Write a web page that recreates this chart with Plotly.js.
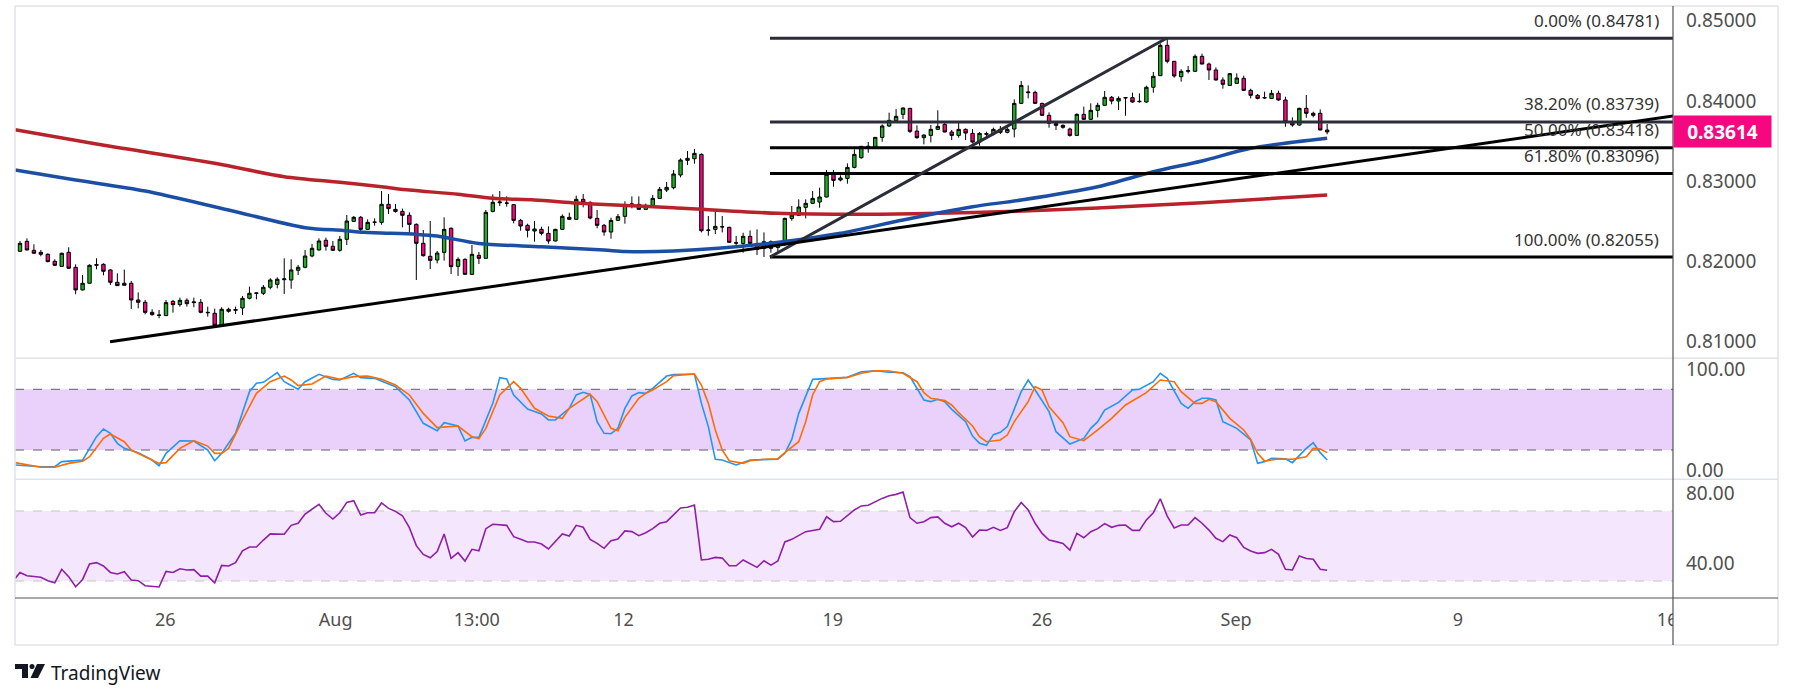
<!DOCTYPE html>
<html><head><meta charset="utf-8">
<script src="https://cdn.plot.ly/plotly-3.0.1.min.js"></script>
<style>html,body{margin:0;padding:0;background:#fff;overflow:hidden}#chart{width:1793px;height:699px}</style>
</head><body><div id="chart"></div>
<script>
// ---------- DATA ----------
const opens = [
0.82126,0.82251,0.82139,0.82114,0.82089,0.82002,0.81939,0.82114,0.81927,0.81645,
0.81728,0.81952,0.81964,0.81894,0.81740,0.81728,0.81728,0.81520,0.81491,0.81366,
0.81333,0.81325,0.81503,0.81462,0.81516,0.81487,0.81491,0.81366,0.81354,0.81204,
0.81404,0.81391,0.81420,0.81541,0.81603,0.81603,0.81678,0.81715,0.81773,0.81769,
0.81890,0.81927,0.82068,0.82143,0.82264,0.82189,0.82139,0.82276,0.82500,0.82550,
0.82400,0.82487,0.82487,0.82712,0.82649,0.82624,0.82575,0.82462,0.82226,0.82064,
0.82018,0.82113,0.82413,0.81939,0.82026,0.81839,0.82076,0.82039,0.82624,0.82732,
0.82728,0.82708,0.82512,0.82450,0.82379,0.82400,0.82350,0.82255,0.82400,0.82550,
0.82525,0.82774,0.82737,0.82537,0.82450,0.82367,0.82512,0.82562,0.82708,0.82712,
0.82649,0.82699,0.82786,0.82890,0.82919,0.83077,0.83260,0.83280,0.83334,0.82387,
0.82400,0.82429,0.82425,0.82234,0.82225,0.82313,0.82225,0.82163,0.82246,0.82175,
0.82213,0.82537,0.82574,0.82674,0.82724,0.82740,0.82803,0.83085,0.83015,0.83035,
0.83172,0.83293,0.83422,0.83422,0.83546,0.83688,0.83754,0.83833,0.83908,0.83625,
0.83542,0.83571,0.83646,0.83708,0.83613,0.83571,0.83646,0.83596,0.83488,0.83584,
0.83588,0.83646,0.83609,0.83650,0.83970,0.84103,0.84107,0.83970,0.83821,0.83721,
0.83696,0.83650,0.83571,0.83833,0.83771,0.83883,0.83945,0.84045,0.83999,0.84037,
0.84041,0.83991,0.83987,0.84170,0.84315,0.84693,0.84494,0.84302,0.84369,0.84369,
0.84556,0.84460,0.84386,0.84261,0.84194,0.84219,0.84282,0.84132,0.84070,0.84037,
0.84032,0.84095,0.84012,0.83733,0.83700,0.83908,0.83846,0.83846,0.83638];
const highs = [
0.82255,0.82288,0.82214,0.82143,0.82102,0.82027,0.82110,0.82176,0.81964,0.81831,
0.81964,0.82039,0.81977,0.81902,0.81852,0.81898,0.81757,0.81615,0.81520,0.81404,
0.81395,0.81520,0.81520,0.81549,0.81541,0.81549,0.81532,0.81437,0.81412,0.81429,
0.81424,0.81437,0.81570,0.81686,0.81610,0.81707,0.81790,0.81802,0.82039,0.82027,
0.81956,0.82143,0.82218,0.82288,0.82297,0.82255,0.82318,0.82579,0.82566,0.82566,
0.82525,0.82537,0.82878,0.82840,0.82716,0.82658,0.82612,0.82475,0.82392,0.82504,
0.82130,0.82550,0.82425,0.82051,0.82039,0.82205,0.82118,0.82641,0.82836,0.82878,
0.82811,0.82716,0.82529,0.82471,0.82504,0.82433,0.82437,0.82408,0.82587,0.82608,
0.82820,0.82840,0.82749,0.82641,0.82467,0.82545,0.82591,0.82749,0.82811,0.82811,
0.82720,0.82828,0.82928,0.82990,0.83140,0.83285,0.83376,0.83401,0.83347,0.82566,
0.82628,0.82566,0.82433,0.82317,0.82358,0.82387,0.82400,0.82362,0.82263,0.82246,
0.82545,0.82691,0.82774,0.82774,0.82877,0.82919,0.83139,0.83139,0.83073,0.83222,
0.83397,0.83440,0.83488,0.83550,0.83708,0.83854,0.83899,0.83920,0.83912,0.83696,
0.83584,0.83700,0.83883,0.83737,0.83638,0.83737,0.83658,0.83650,0.83613,0.83617,
0.83667,0.83688,0.83679,0.84020,0.84248,0.84194,0.84128,0.83978,0.83858,0.83737,
0.83708,0.83667,0.83845,0.83929,0.83970,0.83978,0.84124,0.84062,0.84057,0.84045,
0.84103,0.84095,0.84190,0.84361,0.84718,0.84781,0.84498,0.84394,0.84435,0.84581,
0.84589,0.84477,0.84419,0.84294,0.84348,0.84344,0.84315,0.84153,0.84086,0.84116,
0.84136,0.84128,0.84053,0.83796,0.83916,0.84074,0.83866,0.83895,0.83713];
const lows = [
0.82122,0.82139,0.82097,0.82064,0.81989,0.81944,0.81935,0.81910,0.81591,0.81640,
0.81728,0.81902,0.81827,0.81707,0.81695,0.81699,0.81408,0.81416,0.81341,0.81325,
0.81292,0.81321,0.81362,0.81437,0.81437,0.81429,0.81354,0.81312,0.81200,0.81188,
0.81362,0.81346,0.81333,0.81528,0.81528,0.81582,0.81653,0.81665,0.81595,0.81661,
0.81831,0.81915,0.82052,0.82135,0.82135,0.82131,0.82122,0.82205,0.82492,0.82346,
0.82396,0.82446,0.82458,0.82591,0.82608,0.82425,0.82329,0.81769,0.82060,0.81906,
0.81976,0.82010,0.81843,0.81819,0.81835,0.81835,0.81968,0.82035,0.82612,0.82691,
0.82683,0.82475,0.82383,0.82300,0.82246,0.82325,0.82221,0.82250,0.82392,0.82516,
0.82520,0.82674,0.82525,0.82413,0.82321,0.82284,0.82504,0.82471,0.82662,0.82645,
0.82645,0.82683,0.82782,0.82865,0.82899,0.83048,0.83201,0.83218,0.82362,0.82321,
0.82342,0.82362,0.82234,0.82200,0.82109,0.82221,0.82080,0.82055,0.82109,0.82109,
0.82196,0.82508,0.82566,0.82537,0.82715,0.82670,0.82799,0.82931,0.82998,0.82969,
0.83160,0.83280,0.83355,0.83418,0.83492,0.83675,0.83742,0.83775,0.83600,0.83530,
0.83459,0.83484,0.83638,0.83609,0.83513,0.83542,0.83513,0.83471,0.83442,0.83555,
0.83571,0.83588,0.83596,0.83546,0.83962,0.84032,0.83962,0.83812,0.83667,0.83638,
0.83654,0.83555,0.83563,0.83762,0.83762,0.83796,0.83937,0.83958,0.83887,0.83816,
0.83978,0.83978,0.83978,0.84103,0.84315,0.84469,0.84290,0.84240,0.84344,0.84365,
0.84456,0.84261,0.84255,0.84153,0.84186,0.84215,0.84124,0.84032,0.84020,0.84024,
0.84024,0.84003,0.83679,0.83679,0.83692,0.83791,0.83796,0.83634,0.83584];
const closes = [
0.82226,0.82143,0.82102,0.82089,0.81998,0.81952,0.82102,0.81915,0.81645,0.81728,
0.81952,0.81960,0.81877,0.81740,0.81699,0.81703,0.81520,0.81491,0.81366,0.81337,
0.81329,0.81487,0.81462,0.81516,0.81474,0.81495,0.81366,0.81362,0.81204,0.81404,
0.81379,0.81400,0.81541,0.81603,0.81607,0.81678,0.81769,0.81778,0.81782,0.81894,
0.81927,0.82068,0.82164,0.82255,0.82189,0.82139,0.82276,0.82504,0.82550,0.82400,
0.82487,0.82490,0.82712,0.82658,0.82624,0.82575,0.82462,0.82226,0.82072,0.82014,
0.82105,0.82400,0.81935,0.82026,0.81839,0.82089,0.82039,0.82612,0.82737,0.82741,
0.82726,0.82512,0.82442,0.82388,0.82404,0.82350,0.82255,0.82400,0.82562,0.82525,
0.82774,0.82737,0.82541,0.82450,0.82367,0.82512,0.82558,0.82708,0.82716,0.82649,
0.82699,0.82786,0.82899,0.82923,0.83090,0.83264,0.83285,0.83347,0.82383,0.82391,
0.82437,0.82433,0.82238,0.82229,0.82313,0.82225,0.82151,0.82246,0.82163,0.82213,
0.82537,0.82578,0.82678,0.82724,0.82786,0.82803,0.83085,0.83010,0.83040,0.83172,
0.83334,0.83434,0.83434,0.83546,0.83688,0.83758,0.83808,0.83912,0.83621,0.83542,
0.83575,0.83646,0.83683,0.83613,0.83571,0.83646,0.83600,0.83488,0.83596,0.83592,
0.83646,0.83609,0.83646,0.83970,0.84194,0.84111,0.83970,0.83821,0.83721,0.83696,
0.83671,0.83571,0.83833,0.83771,0.83883,0.83945,0.84045,0.83999,0.84032,0.84041,
0.83987,0.83995,0.84170,0.84307,0.84693,0.84494,0.84311,0.84369,0.84377,0.84556,
0.84460,0.84386,0.84261,0.84207,0.84340,0.84286,0.84132,0.84070,0.84032,0.84041,
0.84095,0.84012,0.83738,0.83700,0.83908,0.83846,0.83821,0.83638,0.83614];

// moving averages (sampled along the drawn curves)
const redMaX = [-0.7,11,28,38,46,52,56,63,68,74,80,84,94,109,122,132,142,155,170,188];
const redMaY = [0.83640,0.83464,0.83223,0.83056,0.82986,0.82931,0.82890,0.82837,0.82787,0.82766,0.82728,0.82710,0.82670,0.82600,0.82588,0.82600,0.82622,0.82666,0.82732,0.82828];
const blueMaX = [-0.7,8,18,30,41,46.5,49.5,57,60,66,75,84,87,94,108,118,127,137,144,155,163,170,177,188];
const blueMaY = [0.83140,0.83015,0.82878,0.82641,0.82421,0.82386,0.82363,0.82338,0.82317,0.82224,0.82184,0.82143,0.82124,0.82130,0.82226,0.82351,0.82517,0.82682,0.82766,0.82931,0.83118,0.83252,0.83410,0.83535];

// Stochastic %K / %D
const stochKX = [-0.7,3,5,6,9,11,12,13,14,15,17,19,20,21,23,25,27,28,29,31,33,34,35,37,38,40,41,43,45,46,48,49,51,52,54,56,58,60,61,63,64,65,66,68,69,70,71,73,75,76,77,79,80,81,82,83,84,85,86,87,88,89,90,91,92,93,94,97,98,99,100,101,103,104,105,109,110,111,112,114,116,119,121,123,125,127,128,130,131,132,133,134,136,137,138,139,140,141,142,143,144,145,146,148,149,151,153,154,155,156,158,160,161,163,164,165,166,167,168,169,170,171,172,173,175,177,178,179,180,182,183,184,185,186,187,188];
const stochKY = [5.2,3.5,3.5,8.5,10,33.2,40.8,36.5,26.6,21.6,17.4,10.1,4.5,16.7,29.2,28.9,20.0,9.4,16.7,36.5,77.7,85.9,86.9,96.4,87.5,80.0,87.5,94.8,89.8,89.2,95.8,91.5,90.8,88.2,82.6,69.4,46.4,39.1,47.0,43.7,28.9,32.5,32.5,66.1,91.5,90.2,74.4,60.5,55.6,49.7,49.7,61.2,74.4,77.0,75.0,48.0,36.5,36.1,41.4,61.2,73.4,76.7,76.0,80.9,87.5,93.1,94.5,95.1,66.1,43.1,10.8,10.1,5.2,7.8,10.1,10.8,16.7,30.5,56.2,89.8,90.8,91.8,97.4,98.4,96.8,96.4,92.5,69.4,67.8,70.1,67.8,60.2,48.0,33.8,26.6,24.6,35.2,37.5,43.1,59.5,77.7,89.2,79.3,57.9,38.1,25.9,31.5,41.4,48.0,59.5,67.1,79.3,80.0,87.5,95.8,90.8,77.7,66.1,61.2,67.8,71.1,71.1,69.4,48.0,41.4,29.9,6.8,8.5,11.8,11.4,7.5,15.1,21.6,27.2,17.4,10.1];
const stochDX = [-0.7,3,5,7,9,10,12,13,15,16,18,20,21,23,25,27,28,29,30,32,34,36,38,39,40,42,44,46,48,50,52,54,56,58,60,63,65,66,67,69,71,72,74,76,78,79,82,83,85,86,87,89,90,91,93,94,97,98,99,100,101,102,104,105,107,109,110,112,113,114,115,116,119,121,123,125,127,129,130,131,133,134,135,137,138,139,141,142,143,145,146,147,148,150,151,153,155,157,159,162,164,166,167,169,170,171,172,174,176,177,178,179,181,182,183,185,186,187,188];
const stochDY = [7.5,2.9,2.9,6.8,8.8,13.4,31.5,35.8,28.2,20.0,13.4,6.8,7.5,21.6,29.2,23.9,16.7,16.7,21.6,49.7,76.0,87.5,93.1,89.2,83.6,85.2,93.1,89.8,92.5,93.1,89.8,84.2,74.4,56.2,42.1,43.7,33.2,31.2,41.4,74.4,87.5,80.9,61.2,53.6,51.3,61.2,75.0,68.0,41.4,39.1,52.3,71.1,76.0,79.3,87.5,93.5,95.1,84.2,66.1,39.8,20.0,9.4,6.8,9.4,10.8,11.4,17.4,28.2,48.0,74.4,87.5,90.2,91.8,95.8,98.4,98.1,95.8,87.5,76.7,71.1,68.8,64.5,56.9,43.7,33.2,28.2,29.9,34.8,48.0,67.8,82.6,79.3,62.8,47.0,33.2,29.2,39.8,51.3,64.5,76.7,89.2,87.5,77.7,66.1,66.1,70.1,67.8,51.3,39.8,30.5,16.7,9.1,11.1,10.8,10.8,13.4,21.6,21.0,17.4];

// RSI
const rsiX = [-0.7,0,1,3,4,5,6,7,8,9,10,11,12,13,14,15,16,17,18,20,21,22,23,24,25,26,27,28,29,30,31,32,33,34,35,36,38,39,40,41,43,44,45,46,47,48,49,50,51,52,53,54,55,56,57,58,59,60,61,62,63,64,65,66,67,68,70,71,72,73,74,75,76,77,78,79,80,81,82,83,84,85,86,87,88,89,90,91,92,93,94,95,96,97,98,99,100,101,102,103,104,105,106,107,108,109,110,111,112,113,115,116,117,118,120,121,122,123,124,125,126,127,128,129,130,131,132,133,134,135,136,137,138,139,140,141,142,143,144,145,146,147,148,149,150,151,152,153,154,155,156,157,158,159,160,161,162,163,164,165,166,167,168,169,170,171,172,173,174,175,176,177,178,179,180,181,182,183,184,185,186,187,188];
const rsiY = [31.5,34.9,33.0,32.1,30.2,29.0,36.7,32.5,26.7,30.9,39.7,40.5,38.6,34.9,34.0,35.3,30.6,30.2,27.3,26.6,35.5,34.9,37.0,36.3,36.5,32.8,32.8,29.0,38.9,38.6,40.5,47.3,49.4,49.4,53.4,56.9,56.7,61.8,63.0,68.3,73.8,68.7,65.4,69.0,74.9,75.9,67.7,69.0,69.0,74.6,71.5,69.8,67.3,60.5,50.2,45.2,43.3,46.8,56.9,42.9,46.2,41.4,48.1,47.3,59.9,62.4,61.8,55.3,53.8,52.3,52.3,51.1,48.3,52.5,56.9,55.7,61.8,60.7,53.8,51.5,48.7,53.0,54.0,58.6,58.2,55.9,57.6,59.9,63.0,63.9,67.7,71.7,72.1,73.4,42.0,42.4,43.5,43.1,38.7,38.7,42.0,40.1,37.8,41.6,39.1,41.4,52.3,53.8,56.1,58.2,59.5,66.7,63.9,64.1,70.6,72.9,73.3,75.3,77.2,78.7,79.5,80.8,66.2,63.0,63.9,66.2,66.6,63.0,61.0,63.0,60.5,55.1,59.1,58.9,60.7,58.9,60.5,69.6,74.9,70.6,63.0,57.2,53.4,52.5,51.5,47.7,57.2,54.7,58.2,59.9,62.8,60.7,61.8,62.0,58.9,58.9,64.9,69.0,77.0,67.1,60.3,62.0,62.0,66.2,63.0,59.1,54.4,52.5,56.3,54.7,49.2,47.1,45.8,46.2,48.1,45.2,36.7,36.3,44.3,42.9,42.4,36.7,36.1];

// axis ticks
const xTickVals = [20.9,45.4,65.7,86.8,116.9,147.0,174.9,206.8,236.9];
const xTickText = ['26','Aug','13:00','12','19','26','Sep','9','16'];
const priceTicks = [0.81,0.82,0.83,0.84,0.85];
const stochTicks = [0,100];
const rsiTicks = [40,80];
const stochBand = [20,80];
const rsiBand = [30,70];

// drawings
const fibPct = [0,38.2,50,61.8,100];
const fibLevels = [0.84781,0.83739,0.83418,0.83096,0.82055];
const fibStartX = 107.86;
const fibDiagX = [107.86,164.9];
const fibDiagY = [0.82055,0.84781];
const trendX = [12.95,240];
const trendY = [0.81000,0.838416];

// ---------- LAYOUT HELPERS ----------
const W=1793,H=699,ML=15,MR=120,MT=6,MB=101;
const PW=W-ML-MR, PH=H-MT-MB;
const pxX = v => (v-ML)/PW;
const pxY = v => (H-MB-v)/PH;
const FONT = 'Noto Sans, Roboto, sans-serif';
const TXT = '#4f4f4f';
const xr = [-0.72,237.74];
const GREEN='#1fae24', PINK='#f7077f';

const idx = opens.map((_,i)=>i);
const traces = [
 {type:'candlestick', x:idx, open:opens, high:highs, low:lows, close:closes, xaxis:'x', yaxis:'y',
  increasing:{line:{color:'#000',width:1}, fillcolor:GREEN},
  decreasing:{line:{color:'#000',width:1}, fillcolor:PINK},
  whiskerwidth:0, hoverinfo:'skip', showlegend:false},
 {type:'scatter', mode:'lines', x:redMaX, y:redMaY, line:{color:'#b8232b', width:3.5, shape:'spline', smoothing:0.8}, xaxis:'x', yaxis:'y', hoverinfo:'skip', showlegend:false},
 {type:'scatter', mode:'lines', x:blueMaX, y:blueMaY, line:{color:'#1c4fa3', width:3.5, shape:'spline', smoothing:0.8}, xaxis:'x', yaxis:'y', hoverinfo:'skip', showlegend:false},
 {type:'scatter', mode:'lines', x:stochKX, y:stochKY, line:{color:'#2196f3', width:1.6}, xaxis:'x', yaxis:'y2', hoverinfo:'skip', showlegend:false},
 {type:'scatter', mode:'lines', x:stochDX, y:stochDY, line:{color:'#ff6d00', width:1.6}, xaxis:'x', yaxis:'y2', hoverinfo:'skip', showlegend:false},
 {type:'scatter', mode:'lines', x:rsiX, y:rsiY, line:{color:'#8e1fa6', width:1.6}, xaxis:'x', yaxis:'y3', hoverinfo:'skip', showlegend:false}
];

const shapes = [];
// oscillator bands
shapes.push({type:'rect', xref:'paper', yref:'y2', x0:0, x1:1, y0:stochBand[0], y1:stochBand[1], fillcolor:'#e9d1fc', line:{width:0}, layer:'below'});
stochBand.forEach(v=>shapes.push({type:'line', xref:'paper', yref:'y2', x0:0, x1:1, y0:v, y1:v, line:{color:'#5c5f6a', width:1, dash:'dash'}, layer:'below'}));
shapes.push({type:'rect', xref:'paper', yref:'y3', x0:0, x1:1, y0:rsiBand[0], y1:rsiBand[1], fillcolor:'#f4e7fd', line:{width:0}, layer:'below'});
rsiBand.forEach(v=>shapes.push({type:'line', xref:'paper', yref:'y3', x0:0, x1:1, y0:v, y1:v, line:{color:'#c3c3c8', width:1, dash:'dash'}, layer:'below'}));
// fib retracement
fibLevels.forEach((lv,k)=>shapes.push({type:'line', xref:'x', yref:'y', x0:fibStartX, x1:xr[1], y0:lv, y1:lv, line:{color:k<2?'#2b2e38':'#000000', width:3}, layer:'above'}));
shapes.push({type:'line', xref:'x', yref:'y', x0:fibDiagX[0], x1:fibDiagX[1], y0:fibDiagY[0], y1:fibDiagY[1], line:{color:'#2b2e38', width:3}, layer:'above'});
// trendline
shapes.push({type:'line', xref:'x', yref:'y', x0:trendX[0], x1:trendX[1], y0:trendY[0], y1:trendY[1], line:{color:'#000', width:3}, layer:'above'});
// frame
const LIGHT='#e0e3eb', DARK='#50535e';
const xEnd = pxX(1778), yBot = pxY(645);
shapes.push({type:'line', xref:'paper', yref:'paper', x0:0, x1:xEnd, y0:1, y1:1, line:{color:LIGHT,width:1.5}});
shapes.push({type:'line', xref:'paper', yref:'paper', x0:0, x1:xEnd, y0:yBot, y1:yBot, line:{color:LIGHT,width:1.5}});
shapes.push({type:'line', xref:'paper', yref:'paper', x0:0, x1:0, y0:yBot, y1:1, line:{color:LIGHT,width:1.5}});
shapes.push({type:'line', xref:'paper', yref:'paper', x0:xEnd, x1:xEnd, y0:yBot, y1:1, line:{color:LIGHT,width:1.5}});
[358.3,479.3].forEach(v=>shapes.push({type:'line', xref:'paper', yref:'paper', x0:0, x1:xEnd, y0:pxY(v), y1:pxY(v), line:{color:LIGHT,width:1.5}}));
// clip the cut-off date label under the price scale
shapes.push({type:'rect', xref:'paper', yref:'paper', x0:1, x1:xEnd-0.001, y0:yBot+0.002, y1:-0.002, fillcolor:'#fff', line:{width:0}, layer:'above'});
shapes.push({type:'line', xref:'paper', yref:'paper', x0:0, x1:xEnd, y0:0, y1:0, line:{color:DARK,width:1.2}, layer:'above'});
shapes.push({type:'line', xref:'paper', yref:'paper', x0:1, x1:1, y0:yBot, y1:1, line:{color:DARK,width:1.2}, layer:'above'});
// TradingView logo
const LOGO='#131722';
shapes.push({type:'rect', xref:'paper', yref:'paper', x0:pxX(15), x1:pxX(28), y0:pxY(669), y1:pxY(664), fillcolor:LOGO, line:{width:0}});
shapes.push({type:'rect', xref:'paper', yref:'paper', x0:pxX(22), x1:pxX(28), y0:pxY(678), y1:pxY(664), fillcolor:LOGO, line:{width:0}});
shapes.push({type:'circle', xref:'paper', yref:'paper', x0:pxX(29.5), x1:pxX(34.5), y0:pxY(669), y1:pxY(664), fillcolor:LOGO, line:{width:0}});
shapes.push({type:'path', xref:'paper', yref:'paper', path:`M ${pxX(37)} ${pxY(664)} L ${pxX(45)} ${pxY(664)} L ${pxX(38)} ${pxY(678)} L ${pxX(30.5)} ${pxY(678)} Z`, fillcolor:LOGO, line:{width:0}});

const annotations = [];
fibLevels.forEach((lv,k)=>annotations.push({xref:'paper', yref:'y', x:pxX(1661), y:lv, xanchor:'right', yanchor:'middle', yshift:18,
  text:`${fibPct[k].toFixed(2)}% (${lv.toFixed(5)})`, showarrow:false, font:{family:FONT,size:17,color:'#333333'}}));
const lastClose = closes[closes.length-1];
annotations.push({xref:'paper', yref:'y', x:1, y:lastClose, xanchor:'left', yanchor:'middle', text:'<b>'+lastClose.toFixed(5)+'</b>', showarrow:false,
  bgcolor:PINK, width:93, height:27, borderpad:2, align:'center', font:{family:FONT,size:19,color:'#fff'}});
annotations.push({xref:'paper', yref:'paper', x:pxX(49), y:pxY(673), xanchor:'left', yanchor:'middle', text:'TradingView', showarrow:false,
  font:{family:FONT,size:19,color:LOGO}});

const yBase = {side:'right', anchor:'x', showgrid:false, zeroline:false, showline:false, ticks:'', ticklabelstandoff:12,
  tickfont:{family:FONT,size:19,color:TXT}, fixedrange:true};
const layout = {
  width:W, height:H, margin:{l:ML,r:MR,t:MT,b:MB}, paper_bgcolor:'#fff', plot_bgcolor:'#fff', showlegend:false,
  xaxis:{domain:[0,1], anchor:'y3', range:xr, tickvals:xTickVals, ticktext:xTickText, showgrid:false, zeroline:false,
    showline:false, ticks:'', ticklabelstandoff:9, tickfont:{family:FONT,size:18,color:TXT}, rangeslider:{visible:false}, fixedrange:true},
  yaxis:Object.assign({}, yBase, {domain:[pxY(358.3),1], range:[0.807932,0.851832], tickvals:priceTicks, tickformat:'.5f'}),
  yaxis2:Object.assign({}, yBase, {domain:[pxY(479.3),pxY(358.3)], range:[-8.96,110.64], tickvals:stochTicks, tickformat:'.2f'}),
  yaxis3:Object.assign({}, yBase, {domain:[0,pxY(479.3)], range:[20.29,88.11], tickvals:rsiTicks, tickformat:'.2f'}),
  shapes:shapes, annotations:annotations
};
Plotly.newPlot('chart', traces, layout, {displayModeBar:false, staticPlot:true});
</script>
</body></html>
